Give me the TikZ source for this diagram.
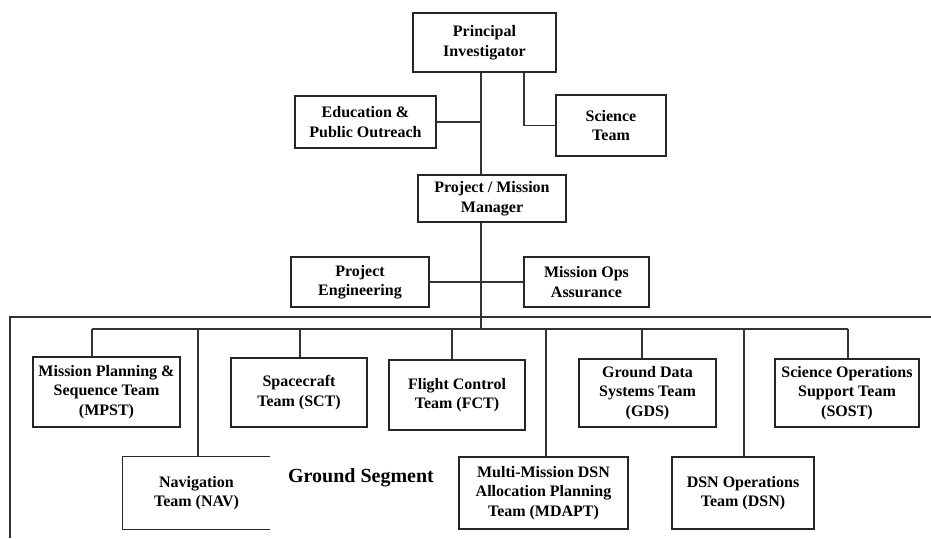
\documentclass[tikz,border=0pt]{standalone}
\usepackage{fontspec}
\setmainfont{Liberation Serif}
\begin{document}
\begin{tikzpicture}[x=1pt,y=-1pt,
  box/.style={draw=black!85,line width=1.3pt,align=center,inner sep=0pt,
    font=\fontsize{16}{19.5}\selectfont\bfseries},
  thickbox/.style={box,line width=2pt},
  txt/.style={align=center,inner sep=0pt,font=\fontsize{16}{19.5}\selectfont\bfseries},
  conn/.style={draw=black!80,line width=1.2pt}]
\useasboundingbox (0,0) rectangle (931,538);
% top
\node[box,minimum width=143pt,minimum height=59pt] (PI) at (484.5,42.5) {Principal\\Investigator};
\node[box,minimum width=141pt,minimum height=52pt] (EPO) at (365.5,122) {Education \&\\Public Outreach};
\node[box,minimum width=110pt,minimum height=61pt] (ST) at (611,125.5) {Science\\Team};
\node[box,minimum width=148pt,minimum height=47pt] (PM) at (492,198.5) {Project / Mission\\Manager};
\node[box,minimum width=138pt,minimum height=50pt] (PE) at (360,282) {Project\\Engineering};
\node[box,minimum width=125pt,minimum height=50pt] (MOA) at (586.5,282) {Mission Ops\\Assurance};
% ground segment
\node[box,minimum width=147pt,minimum height=70pt] (MPST) at (106.5,392) {Mission Planning \&\\Sequence Team\\(MPST)};
\node[box,minimum width=136pt,minimum height=69pt] (SCT) at (299,392.5) {Spacecraft\\Team (SCT)};
\node[thickbox,minimum width=136pt,minimum height=70pt] (FCT) at (457,395) {Flight Control\\Team (FCT)};
\node[box,minimum width=137pt,minimum height=68pt] (GDS) at (647.5,393) {Ground Data\\Systems Team\\(GDS)};
\node[box,minimum width=144pt,minimum height=68pt] (SOST) at (847,393) {Science Operations\\Support Team\\(SOST)};
\node[txt,minimum width=147pt,minimum height=72pt] (NAV) at (196.5,493) {Navigation\\Team (NAV)};
\node[thickbox,minimum width=169pt,minimum height=72pt] (MDAPT) at (543.5,493) {Multi-Mission DSN\\Allocation Planning\\Team (MDAPT)};
\node[thickbox,minimum width=142pt,minimum height=72pt] (DSN) at (743,493) {DSN Operations\\Team (DSN)};
\node[inner sep=0pt,font=\fontsize{20}{23}\selectfont\bfseries] (GS) at (361,478) {Ground Segment};
% NAV box open on right
\draw[line width=1.3pt,draw=black!85] (NAV.north east) -- (NAV.north west) -- (NAV.south west) -- (NAV.south east);
% frame
\coordinate (FR) at (931,317);
\coordinate (FL) at (10,317);
\coordinate (FB) at (10,538);
\draw[conn] (FR) -- (FL) -- (FB);
% connectors
\coordinate (sp) at (481,0);
\coordinate (sc) at (524,0);
\coordinate (busL) at (92,329);
\coordinate (busR) at (848,329);
\draw[conn] (PI.south -| sp) -- (PM.north -| sp);
\draw[conn] (EPO.east) -- (EPO.east -| sp);
\draw[conn] (PI.south -| sc) |- (ST.west);
\draw[conn] (PM.south -| sp) -- (busL -| sp);
\draw[conn] (PE.east) -- (PE.east -| sp);
\draw[conn] (MOA.west) -- (MOA.west -| sp);
\draw[conn] (busL) -- (busR);
\coordinate (xMP) at (92,0);
\coordinate (xNV) at (198,0);
\coordinate (xSC) at (300,0);
\coordinate (xFC) at (452,0);
\coordinate (xMD) at (546,0);
\coordinate (xGD) at (642,0);
\coordinate (xDS) at (744,0);
\coordinate (xSO) at (848,0);
\draw[conn] (busL -| xMP) -- (MPST.north -| xMP);
\draw[conn] (busL -| xNV) -- (NAV.north -| xNV);
\draw[conn] (busL -| xSC) -- (SCT.north -| xSC);
\draw[conn] (busL -| xFC) -- (FCT.north -| xFC);
\draw[conn] (busL -| xMD) -- (MDAPT.north -| xMD);
\draw[conn] (busL -| xGD) -- (GDS.north -| xGD);
\draw[conn] (busL -| xDS) -- (DSN.north -| xDS);
\draw[conn] (busL -| xSO) -- (SOST.north -| xSO);
\end{tikzpicture}
\end{document}
